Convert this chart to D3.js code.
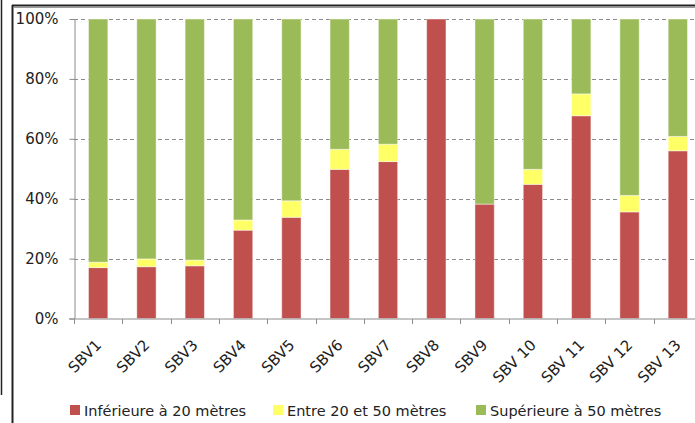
<!DOCTYPE html>
<html>
<head>
<meta charset="utf-8">
<script src="https://cdn.jsdelivr.net/npm/d3@7"></script>
<style>
  html, body { margin: 0; padding: 0; background: #fff; }
  svg { display: block; }
  text { font-family: "DejaVu Sans", sans-serif; fill: #222; }
</style>
</head>
<body>
<svg id="chart" width="695" height="423"></svg>
<script>
// Sub-watershed categories
const categories = ["SBV1", "SBV2", "SBV3", "SBV4", "SBV5", "SBV6", "SBV7", "SBV8", "SBV9",
                    "SBV 10", "SBV 11", "SBV 12", "SBV 13"];
// Share (%) of each distance class per sub-watershed
const inferieure20 = [17.0, 17.3, 17.6, 29.5, 33.8, 49.8, 52.4, 100, 38.2, 44.8, 67.7, 35.6, 56.0];
const entre20et50  = [1.8, 2.6, 1.9, 3.4, 5.5, 6.7, 5.8, 0, 0, 5.0, 7.3, 5.5, 4.8];
const superieure50 = categories.map((c, i) => 100 - inferieure20[i] - entre20et50[i]);

const seriesNames = ["Inférieure à 20 mètres", "Entre 20 et 50 mètres", "Supérieure à 50 mètres"];
const seriesColors = ["#C0504D", "#FFFF66", "#9BBB59"];
const yTicks = [0, 20, 40, 60, 80, 100];

const svg = d3.select("#chart");

// Outer frame
svg.append("line").attr("x1", 1.5).attr("x2", 1.5).attr("y1", 0).attr("y2", 395)
  .attr("stroke", "#222").attr("stroke-width", 1.5);
svg.append("line").attr("x1", 12.5).attr("x2", 12.5).attr("y1", 5).attr("y2", 423)
  .attr("stroke", "#222").attr("stroke-width", 2);
svg.append("line").attr("x1", 12).attr("x2", 695).attr("y1", 5.5).attr("y2", 5.5)
  .attr("stroke", "#222").attr("stroke-width", 2);
svg.append("line").attr("x1", 14).attr("x2", 695).attr("y1", 7.5).attr("y2", 7.5)
  .attr("stroke", "#999").attr("stroke-width", 1);

const plot = { left: 74, right: 702, top: 19, bottom: 318.5 };

const x = d3.scaleBand().domain(categories).range([plot.left, plot.right]).paddingInner(0.6).paddingOuter(0.3);
const xTick = d3.scaleBand().domain(categories).range([plot.left, plot.right]);
const y = d3.scaleLinear().domain([0, 100]).range([plot.bottom, plot.top]);

// Horizontal dashed gridlines
svg.append("g").selectAll("line").data(yTicks.filter(t => t > 0)).join("line")
  .attr("x1", plot.left).attr("x2", plot.right)
  .attr("y1", d => Math.round(y(d)) + 0.5).attr("y2", d => Math.round(y(d)) + 0.5)
  .attr("stroke", "#8c8c8c").attr("stroke-width", 1).attr("stroke-dasharray", "4,3");

// Stacked bars
const rows = categories.map((c, i) => ({
  cat: c, inf: inferieure20[i], mid: entre20et50[i], sup: superieure50[i]
}));
const stack = d3.stack().keys(["inf", "mid", "sup"]);
const layers = stack(rows);

svg.append("g").selectAll("g").data(layers).join("g")
  .attr("fill", (d, i) => seriesColors[i])
  .selectAll("rect").data(d => d.filter(p => p[1] - p[0] > 0)).join("rect")
  .attr("x", d => x(d.data.cat))
  .attr("width", x.bandwidth())
  .attr("y", d => y(d[1]))
  .attr("height", d => y(d[0]) - y(d[1]))
  .attr("stroke", "rgba(255,255,255,0.45)").attr("stroke-width", 1);

// Y axis
const yAxis = svg.append("g").attr("transform", `translate(${plot.left + 0.5},0)`)
  .call(d3.axisLeft(y).tickValues(yTicks).tickFormat(d => d + "%").tickSize(5).tickSizeOuter(0));
yAxis.select(".domain").attr("stroke", "#8c8c8c");
yAxis.selectAll(".tick line").attr("stroke", "#8c8c8c");
yAxis.selectAll(".tick text").attr("x", -16).attr("font-size", 15)
  .attr("font-family", "DejaVu Sans").attr("fill", "#222");

// X axis
const xAxis = svg.append("g").attr("transform", `translate(0,${plot.bottom + 0.5})`);
xAxis.append("line").attr("x1", plot.left - 5).attr("x2", plot.right)
  .attr("stroke", "#8c8c8c");
xAxis.selectAll("line.tick").data(categories.concat(["__end"])).join("line")
  .attr("class", "tick")
  .attr("x1", (d, i) => Math.round(plot.left + i * xTick.bandwidth()) + 0.5)
  .attr("x2", (d, i) => Math.round(plot.left + i * xTick.bandwidth()) + 0.5)
  .attr("y1", 0).attr("y2", 5).attr("stroke", "#8c8c8c");
xAxis.selectAll("text").data(categories).join("text")
  .attr("transform", d => `translate(${x(d) + x.bandwidth() / 2 + 4},${27}) rotate(-45)`)
  .attr("text-anchor", "end")
  .attr("font-size", 15)
  .text(d => d);

// Legend
const legendX = [70, 273, 476];
const legend = svg.append("g").selectAll("g").data(seriesNames).join("g")
  .attr("transform", (d, i) => `translate(${legendX[i]},405)`);
legend.append("rect").attr("width", 10).attr("height", 10)
  .attr("fill", (d, i) => seriesColors[i]);
legend.append("text").attr("x", 14).attr("y", 10.5).attr("font-size", 14.5).text(d => d);
</script>
</body>
</html>
